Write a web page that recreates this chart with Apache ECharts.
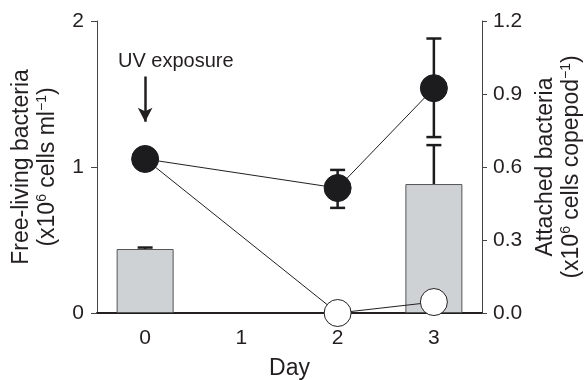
<!DOCTYPE html>
<html><head><meta charset="utf-8">
<script src="https://cdn.jsdelivr.net/npm/echarts@6/dist/echarts.min.js"></script>
<style>html,body{margin:0;padding:0;background:#fff}#c{width:586px;height:380px}</style>
</head><body><div id="c"></div>
<script>
// ---- data ----
const days = ['0', '1', '2', '3'];
// attached bacteria (right axis, x10^6 cells copepod^-1)
const attachedBars = [0.263, null, null, 0.53];
const attachedErrHigh = [0.269, null, null, 0.69];
// free-living bacteria, filled symbols (left axis)
const filledVals = [1.055, null, 0.856, 1.54];
const filledErrLow = [null, null, 0.72, 1.205];
const filledErrHigh = [null, null, 0.98, 1.88];
// free-living bacteria, open symbols (left axis), starting from day 0 filled point
const openVals = [1.055, null, 0.0, 0.075];
// arrow annotation (left-axis units)
const arrowFrom = 1.62, arrowTo = 1.31;
const leftMin = 0, leftMax = 2, leftStep = 1;
const rightMin = 0, rightMax = 1.2, rightStep = 0.3;

const FONT = '"Liberation Sans", Arial, Helvetica, sans-serif';
const INK = '#231f20';

const chart = echarts.init(document.getElementById('c'), null, {renderer: 'canvas'});

function errRender(color, lw, capW, lowerCap) {
  return function (params, api) {
    const x = api.value(0), lo = api.value(1), hi = api.value(2);
    const p1 = api.coord([x, lo]), p2 = api.coord([x, hi]);
    const st = {stroke: color, lineWidth: lw};
    const ch = [
      {type: 'line', shape: {x1: p1[0], y1: p1[1], x2: p2[0], y2: p2[1]}, style: st},
      {type: 'line', shape: {x1: p2[0] - capW, y1: p2[1], x2: p2[0] + capW, y2: p2[1]}, style: st}
    ];
    if (lowerCap) ch.push({type: 'line', shape: {x1: p1[0] - capW, y1: p1[1], x2: p1[0] + capW, y2: p1[1]}, style: st});
    return {type: 'group', children: ch};
  };
}

const filledErrData = days.map((d, i) => [i, filledErrLow[i], filledErrHigh[i]]).filter(r => r[1] != null);
const barErrData = days.map((d, i) => [i, attachedBars[i], attachedErrHigh[i]]).filter(r => r[1] != null);

const titleRich = {
  a: {fontSize: 23, fontFamily: FONT, color: INK, lineHeight: 26},
  s: {fontSize: 14, fontFamily: FONT, color: INK, lineHeight: 26, verticalAlign: 'top'}
};

chart.setOption({
  animation: false,
  backgroundColor: '#fff',
  textStyle: {fontFamily: FONT},
  grid: {left: 97, right: 104, top: 21, bottom: 67, containLabel: false, outerBoundsMode: 'none'},
  xAxis: {
    type: 'category', data: days, boundaryGap: true,
    name: 'Day', nameLocation: 'middle', nameGap: 44,
    nameTextStyle: {fontSize: 23, color: INK, fontFamily: FONT},
    axisLine: {lineStyle: {color: INK, width: 2}},
    axisTick: {alignWithLabel: true, length: 5, lineStyle: {color: '#555', width: 1}},
    axisLabel: {fontSize: 21, color: INK, margin: 15, fontFamily: FONT},
    splitLine: {show: false}
  },
  yAxis: [
    {
      type: 'value', min: leftMin, max: leftMax, interval: leftStep, position: 'left',
      name: '{a|Free-living bacteria}\n{a|(x10}{s|6}{a| cells ml}{s|−1}{a|)}',
      nameLocation: 'middle', nameRotate: 90, nameGap: 36,
      nameTextStyle: {rich: titleRich, lineHeight: 26},
      axisLine: {show: true, lineStyle: {color: '#444', width: 1}},
      axisTick: {show: true, length: 6, lineStyle: {color: '#444'}},
      axisLabel: {fontSize: 21, color: INK, margin: 13, fontFamily: FONT},
      splitLine: {show: false}
    },
    {
      type: 'value', min: rightMin, max: rightMax, interval: rightStep, position: 'right',
      name: '{a|Attached bacteria}\n{a|(x10}{s|6}{a| cells copepod}{s|−1}{a|)}',
      nameLocation: 'middle', nameRotate: 90, nameGap: 45,
      nameTextStyle: {rich: titleRich, lineHeight: 26},
      axisLine: {show: true, lineStyle: {color: '#444', width: 1}},
      axisTick: {show: true, length: 5, lineStyle: {color: '#444'}},
      axisLabel: {fontSize: 21, color: INK, margin: 11, fontFamily: FONT, formatter: v => v.toFixed(1)},
      splitLine: {show: false}
    }
  ],
  graphic: [
    {type: 'text', left: 118, top: 51, style: {text: 'UV exposure', fontSize: 20, fontFamily: FONT, fill: INK}}
  ],
  series: [
    {
      type: 'bar', yAxisIndex: 1, data: attachedBars, barWidth: 57, z: 1,
      itemStyle: {color: '#cfd2d5', borderColor: '#555', borderWidth: 1}
    },
    {
      type: 'custom', yAxisIndex: 1, data: barErrData, z: 2,
      renderItem: errRender('#1c1c1e', 2.5, 7.5, false)
    },
    {
      type: 'line', yAxisIndex: 0, z: 3, clip: false,
      data: openVals.map((v, i) => i === 0 ? {value: v, symbol: 'none'} : v),
      connectNulls: true, symbol: 'circle', symbolSize: 27, showSymbol: true,
      lineStyle: {color: INK, width: 1},
      itemStyle: {color: '#fff', borderColor: INK, borderWidth: 1}
    },
    {
      type: 'custom', yAxisIndex: 0, data: filledErrData, z: 4,
      renderItem: errRender('#1c1c1e', 2.5, 7.5, true)
    },
    {
      type: 'line', yAxisIndex: 0, z: 5, clip: false,
      data: filledVals, connectNulls: true, symbol: 'circle', symbolSize: 27,
      lineStyle: {color: INK, width: 1},
      itemStyle: {color: '#1c1c1e', borderColor: '#1c1c1e', borderWidth: 1},
      markLine: {
        silent: true, animation: false,
        symbol: ['none', 'arrow'], symbolSize: [11, 14],
        lineStyle: {color: INK, width: 2.5, type: 'solid'},
        label: {show: false},
        data: [[{coord: ['0', arrowFrom]}, {coord: ['0', arrowTo]}]]
      }
    }
  ]
});
</script></body></html>
